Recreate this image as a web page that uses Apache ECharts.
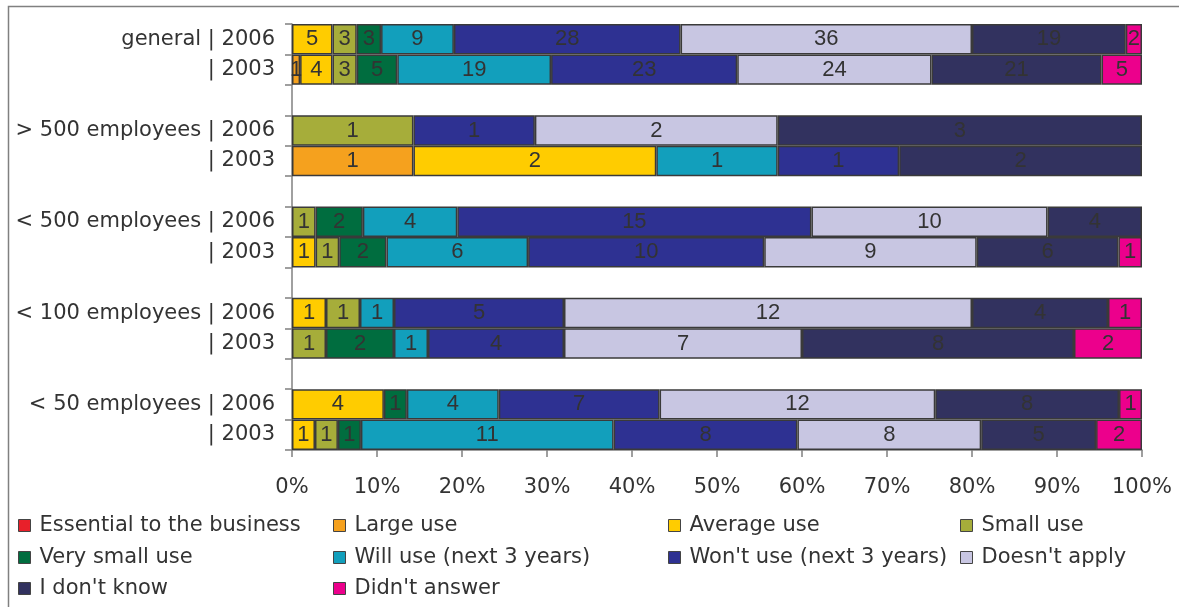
<!DOCTYPE html>
<html>
<head>
<meta charset="utf-8">
<script src="https://cdn.jsdelivr.net/npm/echarts@6/dist/echarts.min.js"></script>
<style>
  html, body { margin: 0; padding: 0; background: #fff; }
  #chart { width: 1179px; height: 607px; }
</style>
</head>
<body>
<div id="chart"></div>
<script>
// Rows from top to bottom; empty strings are spacer rows between groups
const categories = [
  'general | 2006', '| 2003', '',
  '> 500 employees | 2006', '| 2003', '',
  '< 500 employees | 2006', '| 2003', '',
  '< 100 employees | 2006', '| 2003', '',
  '< 50 employees | 2006', '| 2003'
];

const seriesNames = [
  'Essential to the business', 'Large use', 'Average use', 'Small use',
  'Very small use', 'Will use (next 3 years)', "Won't use (next 3 years)",
  "Doesn't apply", "I don't know", "Didn't answer"
];

const seriesColors = [
  '#e8202a', '#f5a11e', '#ffcc00', '#a6ad3a', '#006d3f',
  '#129fbc', '#2e3192', '#c8c6e2', '#32325f', '#ec008c'
];

// Counts of answers per row (null for spacer rows)
const essential  = [0, 0, null, 0, 0, null, 0, 0, null, 0, 0, null, 0, 0];
const largeUse   = [0, 1, null, 0, 1, null, 0, 0, null, 0, 0, null, 0, 0];
const averageUse = [5, 4, null, 0, 2, null, 0, 1, null, 1, 0, null, 4, 1];
const smallUse   = [3, 3, null, 1, 0, null, 1, 1, null, 1, 1, null, 0, 1];
const verySmall  = [3, 5, null, 0, 0, null, 2, 2, null, 0, 2, null, 1, 1];
const willUse    = [9, 19, null, 0, 1, null, 4, 6, null, 1, 1, null, 4, 11];
const wontUse    = [28, 23, null, 1, 1, null, 15, 10, null, 5, 4, null, 7, 8];
const doesntApply= [36, 24, null, 2, 0, null, 10, 9, null, 12, 7, null, 12, 8];
const dontKnow   = [19, 21, null, 3, 2, null, 4, 6, null, 4, 8, null, 8, 5];
const noAnswer   = [2, 5, null, 0, 0, null, 0, 1, null, 1, 2, null, 1, 2];

const xTicks = ['0%', '10%', '20%', '30%', '40%', '50%', '60%', '70%', '80%', '90%', '100%'];

const counts = [essential, largeUse, averageUse, smallUse, verySmall,
                willUse, wontUse, doesntApply, dontKnow, noAnswer];

// Row totals for the 100% stacking
const totals = categories.map((_, i) =>
  counts.reduce((s, arr) => s + (arr[i] || 0), 0));

const FONT = '"DejaVu Sans", "Liberation Sans", Arial, sans-serif';
const LABEL_FONT = '"Liberation Sans", Arial, sans-serif';

const series = counts.map((arr, k) => ({
  name: seriesNames[k],
  type: 'bar',
  stack: 'all',
  barWidth: '100%',
  itemStyle: { color: seriesColors[k], borderColor: '#3a3a3a', borderWidth: 1.5 },
  label: {
    show: true,
    position: 'inside',
    color: '#333',
    fontFamily: LABEL_FONT,
    fontSize: 22,
    formatter: p => String(arr[p.dataIndex])
  },
  data: arr.map((v, i) => (v && totals[i]) ? v / totals[i] * 100 : null)
}));

// Legend grid: 4 columns, filled row by row
const legendColX = [18, 333, 668, 960];
const legendRowY = [513, 545, 576];

const legends = seriesNames.map((name, k) => ({
  left: legendColX[k % 4],
  top: legendRowY[Math.floor(k / 4)],
  padding: 0,
  itemWidth: 12,
  itemHeight: 12,
  itemGap: 0,
  icon: 'rect',
  selectedMode: false,
  itemStyle: { borderColor: '#444', borderWidth: 1 },
  textStyle: { fontFamily: FONT, fontSize: 21, color: '#333', lineHeight: 25, padding: [0, 0, 0, 4] },
  data: [name]
}));

const chart = echarts.init(document.getElementById('chart'), null, { renderer: 'canvas' });
chart.setOption({
  animation: false,
  backgroundColor: '#fff',
  graphic: [{
    type: 'rect',
    shape: { x: 8.5, y: 6.5, width: 1300, height: 700 },
    style: { fill: 'none', stroke: '#808080', lineWidth: 1.5 },
    silent: true
  }],
  legend: legends,
  grid: { left: 292, right: 37, top: 24, bottom: 157 },
  xAxis: {
    type: 'value',
    min: 0,
    max: 100,
    interval: 10,
    axisLine: { show: true, lineStyle: { color: '#808080', width: 1.5 } },
    axisTick: { show: true, length: 7, lineStyle: { color: '#808080', width: 1.5 } },
    splitLine: { show: false },
    axisLabel: {
      margin: 27,
      color: '#333',
      fontFamily: FONT,
      fontSize: 21,
      formatter: v => xTicks[Math.round(v / 10)]
    }
  },
  yAxis: {
    type: 'category',
    inverse: true,
    data: categories,
    axisLine: { show: true, lineStyle: { color: '#808080', width: 1.5 } },
    axisTick: { show: true, length: 7, alignWithLabel: false, interval: 0, lineStyle: { color: '#808080', width: 1.5 } },
    axisLabel: {
      interval: 0,
      margin: 17,
      color: '#333',
      fontFamily: FONT,
      fontSize: 21
    }
  },
  series: series
});
</script>
</body>
</html>
